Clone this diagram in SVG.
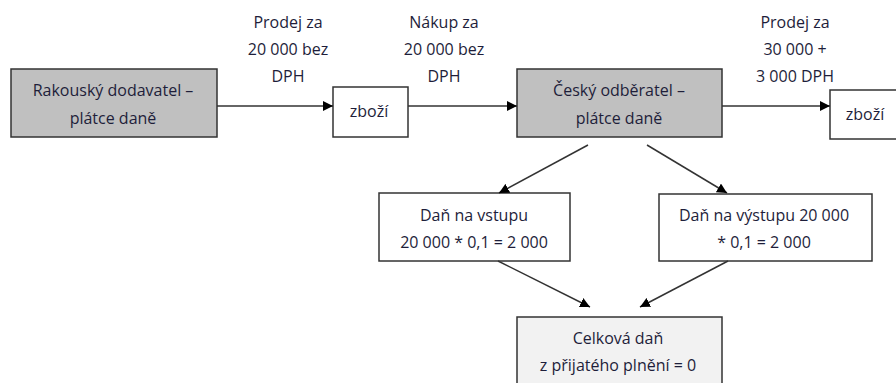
<svg xmlns="http://www.w3.org/2000/svg" width="896" height="383" viewBox="0 0 896 383">
<defs>
<marker id="ah" viewBox="0 0 10 10" refX="10" refY="5" markerWidth="10" markerHeight="10" markerUnits="userSpaceOnUse" orient="auto">
<path d="M0,0 L10,5 L0,10 Z" fill="#000"/>
</marker>
<style>
.box{stroke:#333;stroke-width:1.5}
.t{font-family:"Open Sans","Noto Sans",sans-serif;font-size:16px;fill:#1e1e3a;text-anchor:middle}
.c{stroke:#333;stroke-width:1.5;fill:none;marker-end:url(#ah)}
</style>
</defs>
<rect width="896" height="383" fill="#fff"/>
<g id="lbl1"><text class="t" x="288" y="28">Prodej za</text><text class="t" x="288" y="55">20 000 bez</text><text class="t" x="288" y="82">DPH</text></g>
<g id="lbl2"><text class="t" x="444" y="28">Nákup za</text><text class="t" x="444" y="55">20 000 bez</text><text class="t" x="444" y="82">DPH</text></g>
<g id="lbl3"><text class="t" x="795" y="28">Prodej za</text><text class="t" x="795" y="55">30 000 +</text><text class="t" x="795" y="82">3 000 DPH</text></g>
<g id="n1"><rect class="box" x="11" y="69" width="206" height="68" fill="#c0c0c0"/><text class="t" x="113" y="96">Rakouský dodavatel –</text><text class="t" x="113" y="124">plátce daně</text></g>
<g id="n2"><rect class="box" x="333" y="87" width="75" height="50" fill="#fff"/><text class="t" x="369" y="117">zboží</text></g>
<g id="n3"><rect class="box" x="517" y="69" width="205" height="68" fill="#c0c0c0"/><text class="t" x="619" y="96">Český odběratel –</text><text class="t" x="619" y="124">plátce daně</text></g>
<g id="n4"><rect class="box" x="830" y="90" width="75" height="49" fill="#fff"/><text class="t" x="865" y="120">zboží</text></g>
<g id="n5"><rect class="box" x="379" y="193" width="191" height="68" fill="#fff"/><text class="t" x="474" y="221">Daň na vstupu</text><text class="t" x="474" y="248">20 000 * 0,1 = 2 000</text></g>
<g id="n6"><rect class="box" x="659" y="194" width="213" height="67" fill="#fff"/><text class="t" x="764" y="221">Daň na výstupu 20 000</text><text class="t" x="764" y="248">* 0,1 = 2 000</text></g>
<g id="n7"><rect class="box" x="517" y="317" width="205" height="75" fill="#f2f2f2"/><text class="t" x="618" y="344">Celková daň</text><text class="t" x="618" y="371">z přijatého plnění = 0</text></g>
<g id="connectors">
<line class="c" x1="217" y1="106" x2="333" y2="106"/>
<line class="c" x1="408" y1="106" x2="517" y2="106"/>
<line class="c" x1="722" y1="106" x2="830" y2="106"/>
<line class="c" x1="588" y1="145" x2="499" y2="193"/>
<line class="c" x1="647" y1="145" x2="727" y2="193"/>
<line class="c" x1="498" y1="261" x2="590" y2="307"/>
<line class="c" x1="728" y1="261" x2="640" y2="307"/>
</g>
</svg>
